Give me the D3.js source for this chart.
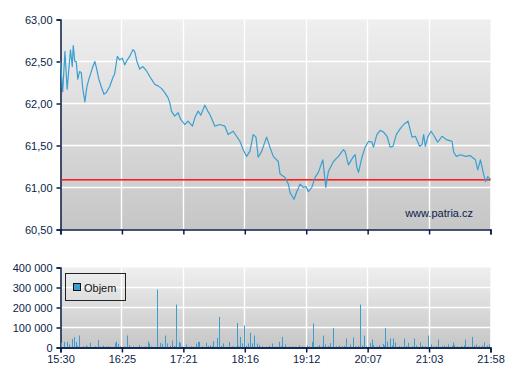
<!DOCTYPE html>
<html><head><meta charset="utf-8">
<script src="https://cdn.jsdelivr.net/npm/d3@7"></script>
<style>body{margin:0;background:#fff}svg{display:block}text{font-family:"Liberation Sans",Arial,sans-serif}</style>
</head><body>
<svg id="c" width="507" height="380"></svg>
<script>
// time axis labels (equally spaced)
const timeLabels = ["15:30","16:25","17:21","18:16","19:12","20:07","21:03","21:58"];
const sessionMinutes = 388; // 15:30 -> 21:58
const priceTicks = [60.5, 61, 61.5, 62, 62.5, 63];
const volumeTicks = [0, 100000, 200000, 300000, 400000];
const refPrice = 61.095;
// price series: minutes after 15:30, price
const priceMinutes = [0,2,4,6,9,10.6,11.5,12.9,14.2,15.6,17.2,18.7,20.2,22,23.8,25.6,27.1,29.2,31,32.3,34.6,36.8,39.2,41.3,44.3,47.3,48.8,51.3,53.4,55.8,57.9,60.3,62.4,64.2,65.4,66.9,69,71.4,74.4,77.5,81.1,85,88,91.1,94.1,97,98.6,100.1,103.1,106.1,108.5,112.1,115.1,119.1,121.2,124.2,126.6,130.2,132.9,134.8,139.3,143.8,148.3,151.3,155.8,158.9,161.9,164.9,167.9,170.9,173.9,176.4,178.4,181.5,186,189,192,196.5,198.1,202.6,205.6,207.1,210.7,213.2,216.2,219.1,221.6,223.7,226.7,229.7,232.7,236.7,239.4,241.7,246.3,250.8,255.3,256.8,259.8,264.4,265.9,267.4,268.9,272,274.9,277.9,281,282.4,285.5,288.5,291.5,294.6,297.5,300,303,306.6,309.6,313.6,317.2,320.2,324,326.2,327.7,329.2,331.3,334.4,337.3,340.3,344.3,348.2,353.3,354.8,357.2,360.9,365.4,369.9,371.4,374.4,376.5,378.9,381.4,383.5,385.5,388];
const priceValues = [62.50,62.14,62.62,62.17,62.64,62.44,62.69,62.50,62.50,62.29,62.38,62.37,62.17,62.02,62.20,62.29,62.35,62.44,62.50,62.43,62.29,62.20,62.11,62.13,62.20,62.31,62.35,62.56,62.52,62.54,62.46,62.52,62.56,62.61,62.64,62.62,62.50,62.41,62.44,62.39,62.31,62.23,62.21,62.18,62.13,62.07,62.01,61.91,61.85,61.89,61.81,61.75,61.79,61.73,61.83,61.91,61.86,61.98,61.91,61.87,61.73,61.75,61.73,61.63,61.67,61.61,61.55,61.45,61.37,61.43,61.63,61.60,61.36,61.43,61.60,61.48,61.37,61.31,61.16,61.12,61.04,60.94,60.86,60.95,61.04,61.00,61.01,60.95,61.00,61.12,61.18,61.33,61.00,61.19,61.31,61.37,61.45,61.43,61.27,61.37,61.39,61.24,61.18,61.36,61.48,61.55,61.54,61.48,61.63,61.68,61.66,61.61,61.48,61.49,61.63,61.70,61.75,61.79,61.60,61.61,61.49,61.51,61.63,61.49,61.60,61.67,61.61,61.54,61.61,61.57,61.55,61.42,61.37,61.39,61.37,61.38,61.36,61.33,61.21,61.33,61.18,61.07,61.13,61.10];
// volume series: minutes after 15:30, volume
const volumeMinutes = [0,3,6,8,10,12,14,15,17,20,23,24,27,31,34,36,38,41,43,46,49,50,52,54,57,60,62,65,68,71,73,76,79,80,82,87,90,92,94,96,99,101,102,104,107,108,110,113,116,118,122,124,125,128,131,133,135,137,138,141,143,145,147,149,152,155,157,159,160,162,164,166,167,169,171,173,175,177,179,182,185,188,191,194,197,199,200,203,206,209,212,215,218,222,224,227,228,231,233,236,237,239,241,243,246,249,251,254,256,258,261,264,266,268,270,272,274,276,279,281,282,285,287,291,292,293,295,297,299,300,302,305,307,310,312,314,317,319,321,324,326,329,332,334,336,339,341,344,346,348,350,353,354,355,358,361,364,365,368,371,373,375,378,380,382,385,387];
const volumeValues = [23000,28000,28000,15000,43000,52000,28000,8000,60000,6000,10000,5000,23000,6000,37000,5000,10000,5000,7000,4000,22000,30000,18000,6000,5000,60000,12000,6000,4000,12000,5000,6000,30000,20000,5000,290000,23000,18000,60000,20000,8000,35000,8000,215000,28000,22000,5000,15000,4000,6000,20000,28000,28000,6000,23000,8000,10000,6000,32000,48000,153000,8000,20000,5000,28000,6000,5000,123000,8000,53000,20000,110000,8000,20000,73000,20000,60000,20000,12000,6000,5000,8000,20000,5000,28000,8000,53000,15000,6000,5000,4000,10000,6000,10000,5000,28000,120000,5000,12000,6000,60000,15000,8000,22000,98000,6000,10000,6000,8000,45000,15000,50000,6000,8000,215000,10000,60000,6000,23000,40000,12000,5000,12000,18000,10000,98000,30000,45000,10000,45000,25000,8000,5000,45000,8000,23000,6000,45000,10000,25000,8000,6000,60000,15000,6000,8000,40000,6000,10000,5000,15000,8000,25000,12000,6000,8000,10000,40000,6000,53000,10000,15000,8000,10000,25000,10000,15000];
const legendLabel = "Objem";
const watermark = "www.patria.cz";

const svg = d3.select("#c");
const navy = "#0a1d4a", blue = "#3a9fd0", red = "#ff1e1e";
const L = 60.5, R = 490.5;
const x = d3.scaleLinear().domain([0, sessionMinutes]).range([L, R]);
const xt = d3.scalePoint().domain(timeLabels).range([L, R]);
const y = d3.scaleLinear().domain([60.5, 63]).range([229.5, 19.5]);
const yv = d3.scaleLinear().domain([0, 400000]).range([347.5, 267.5]);

const defs = svg.append("defs");
const g = defs.append("linearGradient").attr("id","bg").attr("x1",0).attr("y1",0).attr("x2",0).attr("y2",1);
g.append("stop").attr("offset",0).attr("stop-color","#efefef");
g.append("stop").attr("offset",1).attr("stop-color","#c6c6c6");

function panel(yy, ticks, fmt, showLabels) {
  const [b, t] = yy.range();
  svg.append("rect").attr("x",L).attr("y",t).attr("width",R-L).attr("height",b-t).attr("fill","url(#bg)");
  svg.append("path").attr("d",`M${L},${t}H${R}V${b}`).attr("fill","none").attr("stroke","#f4f6fa").attr("stroke-width",1);
  svg.append("g").selectAll("line").data(ticks.slice(1,-1)).join("line")
    .attr("x1",L).attr("x2",R).attr("y1",d=>Math.round(yy(d)-0.5)+0.5).attr("y2",d=>Math.round(yy(d)-0.5)+0.5)
    .attr("stroke","#fff").attr("stroke-width",1.4);
  svg.append("g").selectAll("line").data(timeLabels.slice(1,-1)).join("line")
    .attr("x1",d=>Math.round(xt(d)-0.5)+0.5).attr("x2",d=>Math.round(xt(d)-0.5)+0.5).attr("y1",t).attr("y2",b)
    .attr("stroke","#fff").attr("stroke-width",1.4);
  const ya = svg.append("g").attr("transform",`translate(${L},0)`)
    .call(d3.axisLeft(yy).tickValues(ticks).tickSize(4).tickPadding(4).tickFormat(fmt));
  const xa = svg.append("g").attr("transform",`translate(0,${b})`)
    .call(d3.axisBottom(xt).tickSize(5).tickPadding(3).tickFormat(showLabels ? (d=>d) : ""));
  [ya, xa].forEach(a => {
    a.select(".domain").attr("stroke",navy).attr("stroke-width",1.5);
    a.selectAll(".tick line").attr("stroke",navy).attr("stroke-width",1.5);
    a.selectAll("text").attr("fill",navy).style("font-size","11px").style("font-family","'Liberation Sans',Arial,sans-serif");
  });
}

panel(y, priceTicks, d => d3.format(".2f")(d).replace(".", ","), false);
panel(yv, volumeTicks, d => d3.format(",")(d).replace(/,/g, " "), true);

// reference line (red), drawn as a thin filled band
svg.append("rect").attr("x",L+1).attr("width",R-L-1)
  .attr("y",Math.floor(y(refPrice))).attr("height",1.6)
  .attr("fill",red);

// price line
const pts = priceMinutes.map((m,i)=>[m, priceValues[i]]);
svg.append("path").datum(pts)
  .attr("d", d3.line().x(d=>x(d[0])).y(d=>y(d[1])))
  .attr("fill","none").attr("stroke",blue).attr("stroke-width",1.2).attr("stroke-linejoin","round");

// watermark
svg.append("text").attr("x",473).attr("y",217).attr("text-anchor","end")
  .attr("fill",navy).style("font-size","11px").text(watermark);

// volume bars
svg.append("g").selectAll("rect").data(volumeMinutes.map((m,i)=>[m, volumeValues[i]])).join("rect")
  .attr("x", d=>Math.round(x(d[0]))).attr("width",1)
  .attr("y", d=>yv(d[1])).attr("height", d=>yv(0)-yv(d[1]))
  .attr("fill",blue);
svg.append("line").attr("x1",L).attr("x2",R).attr("y1",yv(0)+0.5).attr("y2",yv(0)+0.5).attr("stroke",navy).attr("stroke-width",1.5);

// legend
const lg = svg.append("g");
lg.append("rect").attr("x",65.5).attr("y",273.5).attr("width",60).attr("height",27)
  .attr("fill","none").attr("stroke","#222").attr("stroke-width",1);
lg.append("rect").attr("x",73.5).attr("y",283.5).attr("width",7).attr("height",7)
  .attr("fill",blue).attr("stroke","#111").attr("stroke-width",1);
lg.append("text").attr("x",84).attr("y",291.5).attr("fill","#111").style("font-size","11px").text(legendLabel);
</script>
</body></html>
